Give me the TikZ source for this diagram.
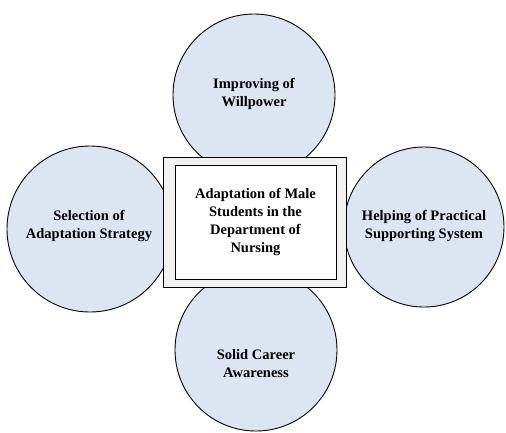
\documentclass[tikz,border=0pt]{standalone}
\usepackage{fontspec}
\setmainfont{Liberation Serif}
\definecolor{circfill}{HTML}{DCE6F2}
\definecolor{boxgray}{HTML}{F2F2F2}
\begin{document}
\begin{tikzpicture}[x=1pt,y=-1pt,
  bubble/.style={circle,draw=black,line width=0.9pt,fill=circfill,inner sep=0pt},
  lbl/.style={align=center,font=\fontsize{14.5}{18}\selectfont\bfseries,text=black},
  outerbox/.style={draw=black,line width=0.9pt,fill=boxgray},
  innerbox/.style={draw=black,line width=0.9pt,fill=white}]
\useasboundingbox (0,0) rectangle (506,432);
\node[bubble,minimum size=162] (top) at (254,95) {};
\node[bubble,minimum size=166] (left) at (90,229) {};
\node[bubble,minimum size=160] (right) at (424,227) {};
\node[bubble,minimum size=162] (bottom) at (256,350) {};
\node[outerbox,minimum width=183,minimum height=130] (outer) at (254.5,222) {};
\node[innerbox,minimum width=161,minimum height=114] (inner) at (255.5,222) {};
\node[lbl] (tcenter) at (inner.center) {Adaptation of Male\\Students in the\\Department of\\Nursing};
\node[lbl] (ttop) at (254,94) {Improving of\\Willpower};
\node[lbl] (tleft) at (89,226) {Selection of\\Adaptation Strategy};
\node[lbl] (tright) at (424,226) {Helping of Practical\\Supporting System};
\node[lbl] (tbottom) at (256,364) {Solid Career\\Awareness};
\end{tikzpicture}
\end{document}
